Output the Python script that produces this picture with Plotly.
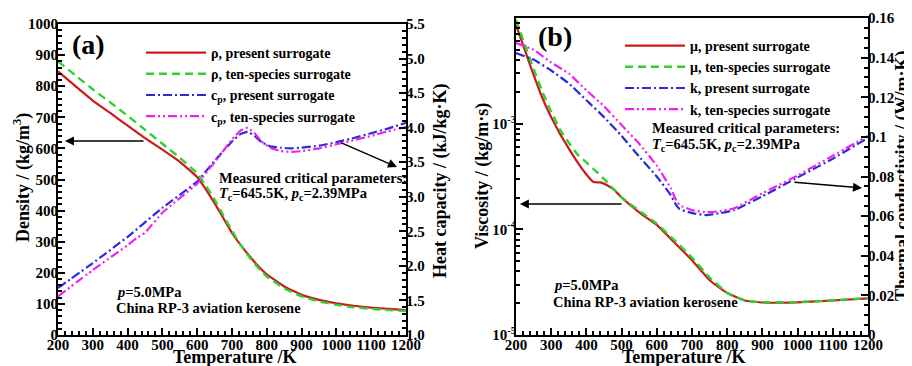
import plotly.graph_objects as go

# ---------------- data: panel (a) ----------------
T_rho = [200, 250, 300, 350, 400, 450, 500, 550, 600, 625, 650, 675, 700, 725, 750, 775, 800, 850, 900, 950, 1000, 1050, 1100, 1150, 1200]
rho_present = [848, 800, 754, 714, 673, 633, 596, 557, 508, 468, 424, 376, 328, 289, 254, 222, 195, 156, 129, 113, 102, 94, 88, 84, 80]
rho_ten = [880, 835, 790, 748, 705, 660, 615, 570, 520, 480, 435, 385, 335, 290, 250, 216, 188, 150, 124, 108, 97, 89, 84, 80, 77]

T_cp_p = [200, 300, 400, 500, 600, 650, 700, 725, 745, 765, 785, 810, 840, 870, 900, 950, 1000, 1050, 1100, 1150, 1200]
cp_present = [1.68, 2.04, 2.42, 2.84, 3.22, 3.52, 3.80, 3.91, 3.94, 3.88, 3.79, 3.73, 3.71, 3.70, 3.71, 3.74, 3.79, 3.85, 3.92, 3.99, 4.07]
T_cp_t = [200, 300, 400, 425, 450, 500, 600, 650, 700, 725, 745, 765, 785, 810, 840, 870, 900, 950, 1000, 1050, 1100, 1150, 1200]
cp_ten = [1.56, 1.94, 2.30, 2.40, 2.48, 2.77, 3.19, 3.50, 3.83, 3.96, 4.00, 3.92, 3.80, 3.71, 3.66, 3.65, 3.66, 3.70, 3.76, 3.82, 3.88, 3.95, 4.01]

# ---------------- data: panel (b) ----------------
T_mu_p = [200, 225, 250, 275, 300, 325, 350, 375, 400, 420, 440, 460, 480, 500, 550, 600, 650, 700, 750, 800, 850, 900, 950, 1000, 1100, 1200]
mu_present = [8.6e-3, 5.0e-3, 2.9e-3, 1.75e-3, 1.15e-3, 8.0e-4, 5.8e-4, 4.3e-4, 3.3e-4, 2.8e-4, 2.78e-4, 2.6e-4, 2.35e-4, 2.0e-4, 1.45e-4, 1.1e-4, 7.5e-5, 5.1e-5, 3.3e-5, 2.5e-5, 2.12e-5, 2.03e-5, 2.02e-5, 2.04e-5, 2.12e-5, 2.22e-5]
T_mu_t = [200, 225, 250, 275, 300, 325, 350, 375, 400, 425, 450, 475, 500, 550, 600, 650, 700, 750, 800, 850, 900, 1000, 1100, 1200]
mu_ten = [9.6e-3, 5.6e-3, 3.3e-3, 2.0e-3, 1.3e-3, 8.8e-4, 6.6e-4, 5.1e-4, 4.3e-4, 3.6e-4, 3.0e-4, 2.45e-4, 2.0e-4, 1.5e-4, 1.13e-4, 7.9e-5, 5.4e-5, 3.5e-5, 2.5e-5, 2.13e-5, 2.04e-5, 2.05e-5, 2.13e-5, 2.24e-5]

T_k = [200, 250, 300, 350, 400, 450, 500, 550, 600, 640, 655, 665, 700, 740, 780, 820, 900, 1000, 1100, 1200]
k_present = [0.1423, 0.139, 0.1335, 0.127, 0.1185, 0.110, 0.1005, 0.090, 0.080, 0.0705, 0.0655, 0.0635, 0.0615, 0.0605, 0.0615, 0.063, 0.070, 0.0795, 0.089, 0.0995]
k_ten = [0.1474, 0.144, 0.1375, 0.132, 0.1235, 0.1155, 0.106, 0.0965, 0.0855, 0.074, 0.068, 0.0655, 0.063, 0.062, 0.0625, 0.064, 0.0715, 0.0805, 0.0905, 0.1005]

T_ticks = [200, 300, 400, 500, 600, 700, 800, 900, 1000, 1100, 1200]
k_ticks = [0, 0.02, 0.04, 0.06, 0.08, 0.1, 0.12, 0.14, 0.16]
k_ticklabels = ["0", "0.02", "0.04", "0.06", "0.08", "0.1", "0.12", "0.14", "0.16"]
mu_ticks = [1e-5, 1e-4, 1e-3, 1e-2]
mu_ticklabels = ["10<sup>-5</sup>", "10<sup>-4</sup>", "10<sup>-3</sup>", "10<sup>-2</sup>"]

RED = "#cc1a1a"
GREEN = "#2fd12f"
BLUE = "#2b2bd9"
MAG = "#ee22ee"
DASHDOTDOT = "9px,3px,2px,3px,2px,3px"
FONT = "Liberation Serif"

# page body has an 8px margin: figure is 904x358 drawn from (8, 8)
OFF = 8
W, H = 912 - OFF, 366 - OFF
def px(x):
    return (x - OFF) / W
def py(y):
    return 1 - (y - OFF) / H

fig = go.Figure()
SM = dict(shape="spline", smoothing=0.3)

# panel (a)
fig.add_trace(go.Scatter(x=T_rho, y=rho_present, mode="lines", name="ρ, present surrogate",
                         line=dict(color=RED, width=2.2, **SM), xaxis="x", yaxis="y", legend="legend"))
fig.add_trace(go.Scatter(x=T_rho, y=rho_ten, mode="lines", name="ρ, ten-species surrogate",
                         line=dict(color=GREEN, width=2.4, dash="8px,5px", **SM), xaxis="x", yaxis="y", legend="legend"))
fig.add_trace(go.Scatter(x=T_cp_p, y=cp_present, mode="lines", name="c<sub>p</sub>, present surrogate",
                         line=dict(color=BLUE, width=2.2, dash="9px,3px,2px,3px", **SM), xaxis="x", yaxis="y2", legend="legend"))
fig.add_trace(go.Scatter(x=T_cp_t, y=cp_ten, mode="lines", name="c<sub>p</sub>, ten-species surrogate",
                         line=dict(color=MAG, width=2.2, dash=DASHDOTDOT, **SM), xaxis="x", yaxis="y2", legend="legend"))

# panel (b)
fig.add_trace(go.Scatter(x=T_mu_p, y=mu_present, mode="lines", name="μ, present surrogate",
                         line=dict(color=RED, width=2.2, **SM), xaxis="x2", yaxis="y3", legend="legend2"))
fig.add_trace(go.Scatter(x=T_mu_t, y=mu_ten, mode="lines", name="μ, ten-species surrogate",
                         line=dict(color=GREEN, width=2.4, dash="8px,5px", **SM), xaxis="x2", yaxis="y3", legend="legend2"))
fig.add_trace(go.Scatter(x=T_k, y=k_present, mode="lines", name="k, present surrogate",
                         line=dict(color=BLUE, width=2.2, dash="9px,3px,2px,3px", **SM), xaxis="x2", yaxis="y4", legend="legend2"))
fig.add_trace(go.Scatter(x=T_k, y=k_ten, mode="lines", name="k, ten-species surrogate",
                         line=dict(color=MAG, width=2.2, dash=DASHDOTDOT, **SM), xaxis="x2", yaxis="y4", legend="legend2"))

tickfont = dict(family=FONT, size=15, color="black", weight="bold")
titlefont = dict(family=FONT, size=18, color="black", weight="bold")
common = dict(showline=True, linecolor="black", linewidth=2, ticks="inside", ticklen=7, tickwidth=1.5,
              tickcolor="black", showgrid=False, zeroline=False, tickfont=tickfont, automargin=False)

dom_xa = [px(58), px(406)]
dom_xb = [px(516), px(868)]
dom_ya = [py(335), py(24)]
dom_yb = [py(335), py(18)]

minor_x = dict(dtick=20, ticks="inside", ticklen=4, tickcolor="black")

fig.update_layout(
    width=W, height=H,
    margin=dict(l=0, r=0, t=0, b=0),
    paper_bgcolor="white", plot_bgcolor="white",
    font=dict(family=FONT, size=15, color="black", weight="bold"),
    xaxis=dict(domain=dom_xa, anchor="y", range=[200, 1200], tickvals=T_ticks, mirror=True,
               ticklabelstandoff=-5, minor=minor_x, **common),
    yaxis=dict(domain=dom_ya, anchor="x", range=[0, 1000], dtick=100, ticklabelstandoff=-5,
               minor=dict(dtick=20, ticks="inside", ticklen=4, tickcolor="black"), **common),
    yaxis2=dict(domain=dom_ya, anchor="x", overlaying="y", side="right", range=[1.0, 5.5], dtick=0.5,
                tickformat=".1f", ticklabelstandoff=-5,
                minor=dict(dtick=0.1, ticks="inside", ticklen=4, tickcolor="black"), **common),
    xaxis2=dict(domain=dom_xb, anchor="y3", range=[200, 1200], tickvals=T_ticks, mirror=True,
                ticklabelstandoff=-5, minor=minor_x, **common),
    yaxis3=dict(domain=dom_yb, anchor="x2", type="log", range=[-5, -2], tickvals=mu_ticks, ticktext=mu_ticklabels,
                ticklabelstandoff=-5,
                minor=dict(dtick="D1", ticks="inside", ticklen=4, tickcolor="black"), **common),
    yaxis4=dict(domain=dom_yb, anchor="x2", overlaying="y3", side="right", range=[0, 0.16],
                tickvals=k_ticks, ticktext=k_ticklabels, ticklabelstandoff=-5,
                minor=dict(dtick=0.005, ticks="inside", ticklen=4, tickcolor="black"), **common),
    legend=dict(x=px(141), y=py(37), xanchor="left", yanchor="top", bgcolor="rgba(0,0,0,0)", itemwidth=60,
                font=dict(family=FONT, size=14, color="black", weight="bold"), tracegroupgap=0),
    legend2=dict(x=px(620), y=py(30), xanchor="left", yanchor="top", bgcolor="rgba(0,0,0,0)", itemwidth=60,
                 font=dict(family=FONT, size=14, color="black", weight="bold"), tracegroupgap=0),
    showlegend=True,
)

ann = []
txt = dict(family=FONT, size=14.5, color="black", weight="bold")
def label(text, x, y, xanchor="left", angle=0, font=txt):
    ann.append(dict(text=text, x=px(x), y=py(y), xref="paper", yref="paper", xanchor=xanchor,
                    yanchor="middle", showarrow=False, textangle=angle, font=font))

label("(a)", 70, 44, font=dict(family=FONT, size=28, color="black", weight="bold"))
label("(b)", 536, 36, font=dict(family=FONT, size=28, color="black", weight="bold"))
label("Measured critical parameters:", 217, 178)
label("<i>T</i><sub>c</sub>=645.5K, <i>p</i><sub>c</sub>=2.39MPa", 217, 194)
label("<i>p</i>=5.0MPa", 114, 292)
label("China RP-3 aviation kerosene", 114, 308)
label("Measured critical parameters:", 650, 128)
label("<i>T</i><sub>c</sub>=645.5K, <i>p</i><sub>c</sub>=2.39MPa", 650, 145)
label("<i>p</i>=5.0MPa", 551, 285)
label("China RP-3 aviation kerosene", 551, 302)

# axis titles
label("Temperature /K", 235, 357, xanchor="center", font=titlefont)
label("Temperature /K", 684, 357, xanchor="center", font=titlefont)
label("Density / (kg/m<sup>3</sup>)", 22, 178, xanchor="center", angle=-90, font=titlefont)
label("Heat capacity / (kJ/kg·K)", 440, 181, xanchor="center", angle=-90, font=titlefont)
label("Viscosity / (kg/m·s)", 483, 176, xanchor="center", angle=-90, font=titlefont)
label("Thermal conductivity / (W/m·K)", 903, 176, xanchor="center", angle=-90, font=titlefont)

arrow = dict(showarrow=True, arrowhead=2, arrowsize=1.2, arrowwidth=1.5, arrowcolor="black", text="")
# panel (a) arrows
ann.append(dict(x=220, y=624, xref="x", yref="y", ax=450, ay=624, axref="x", ayref="y", **arrow))
ann.append(dict(x=1174, y=3.43, xref="x", yref="y2", ax=1010, ay=3.79, axref="x", ayref="y2", **arrow))
# panel (b) arrows (log axis uses log10 values)
ann.append(dict(x=211, y=-3.76, xref="x2", yref="y3", ax=504, ay=-3.76, axref="x2", ayref="y3", **arrow))
ann.append(dict(x=1183, y=0.0742, xref="x2", yref="y4", ax=987, ay=0.0772, axref="x2", ayref="y4", **arrow))

fig.update_layout(annotations=ann)
fig.write_html("out.html")
